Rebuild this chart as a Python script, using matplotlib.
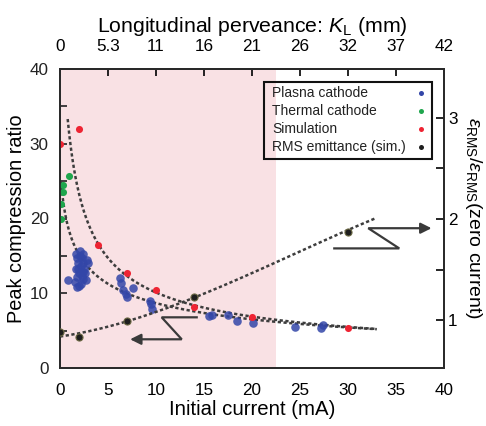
import numpy as np
import matplotlib
matplotlib.use("Agg")
import matplotlib.pyplot as plt
from matplotlib.patches import Rectangle

plt.rcParams['font.family'] = ['Liberation Sans', 'DejaVu Sans']
plt.rcParams['mathtext.fontset'] = 'custom'
plt.rcParams['mathtext.rm'] = 'Liberation Sans'
plt.rcParams['mathtext.it'] = 'Liberation Sans:italic'
plt.rcParams['mathtext.bf'] = 'Liberation Sans:bold'

# ---- measured data -------------------------------------------------------
plasma_x = [0.87, 1.63, 2.08, 2.43, 1.74, 2.26, 2.78, 1.84, 2.43, 2.95, 1.91, 2.53,
            2.20, 1.98, 2.60, 2.30, 1.74, 2.43, 2.67, 1.56, 2.19, 1.74, 2.00, 2.10,
            1.70, 2.35,
            6.25, 6.40, 6.60, 7.57, 7.00, 6.90,
            9.40, 9.45, 9.55,
            15.5, 15.8, 17.5, 18.45, 20.15, 24.5, 27.2, 27.4]
plasma_y = [11.8, 15.3, 15.6, 15.3, 14.7, 14.7, 14.4, 14.0, 14.0, 14.0, 13.3, 13.3,
            13.6, 12.7, 12.7, 12.3, 12.2, 11.9, 11.8, 11.5, 11.3, 10.9, 11.0, 15.0,
            13.2, 12.9,
            12.0, 11.4, 10.4, 10.7, 9.5, 9.9,
            8.9, 8.5, 7.9,
            6.95, 7.1, 7.1, 6.35, 6.0, 5.55, 5.4, 5.7]

thermal_x = [0.9, 0.35, 0.35, 0.1, 0.1]
thermal_y = [25.7, 24.5, 23.5, 21.9, 19.9]

sim_x = [0.0, 2.0, 4.0, 7.0, 10.0, 14.0, 20.0, 30.0]
sim_y = [30.0, 32.0, 16.5, 12.7, 10.4, 8.1, 6.8, 5.3]

rms_x = [0.0, 2.0, 7.0, 14.0, 30.0]
rms_y = [0.88, 0.83, 0.99, 1.23, 1.87]

# trend curves
sim_trend_x = [0.8, 1.4, 1.9, 2.8, 3.8, 6.9, 9.9, 13.7, 18.6, 24.5, 29.0, 33.0]
sim_trend_y = [33.0, 27.8, 23.4, 19.8, 16.7, 12.7, 10.4, 8.1, 7.2, 6.2, 5.5, 5.3]

plasma_trend_x = [0.1, 0.5, 0.9, 1.4, 2.6, 3.7, 6.3, 8.2, 9.8, 11.8, 13.2, 14.9,
                  18.6, 24.6, 29.2, 33.0]
plasma_trend_y = [26.5, 19.6, 18.0, 16.4, 14.2, 12.4, 10.8, 9.5, 9.0, 8.4, 7.8, 7.2,
                  6.5, 5.8, 5.4, 5.3]

rms_trend_x = [0.0, 2.0, 4.7, 7.0, 9.5, 14.0, 18.7, 22.2, 30.0, 32.8]
rms_trend_y = [0.884, 0.83, 0.868, 1.0, 1.10, 1.24, 1.41, 1.545, 1.874, 2.02]

top_tick_labels = ['0', '5.3', '11', '16', '21', '26', '32', '37', '42']
shaded_limit = 22.5

legend_labels = ['Plasna cathode', 'Thermal cathode', 'Simulation', 'RMS emittance (sim.)']

# Z-shaped pointers telling which axis each curve family belongs to
left_pointer_x = [14.24, 10.59, 12.68, 7.9]
left_pointer_y = [6.78, 6.78, 3.84, 3.84]
right_pointer_x = [28.57, 35.34, 32.11, 38.0]
right_pointer_y = [16.0, 16.0, 18.7, 18.7]

# ---- figure --------------------------------------------------------------
fig = plt.figure(figsize=(4.86, 4.26), dpi=100)
ax = fig.add_axes([60 / 486, 1 - 368 / 426, 384 / 486, 299 / 426])
ax.set_xlim(0, 40)
ax.set_ylim(0, 40)
ax.set_zorder(2)
ax.patch.set_visible(False)

ax2 = ax.twinx()
ax2.set_ylim(0.525, 3.485)

# background axes carries the shading
bg = fig.add_axes(ax.get_position(), zorder=0)
bg.set_xlim(0, 40)
bg.set_ylim(0, 40)
bg.axvspan(0, shaded_limit, color='#f9e1e4', lw=0)
bg.axis('off')

pink_red = '#ee2433'
green = '#1fa64d'
blue = '#3346a8'
black_pt = '#1e1e1e'
dash = (0, (1.3, 1.0))
curve_col = '#3d3d3d'


def power_trend(xs, ys, shift):
    xs = np.asarray(xs, float)
    ys = np.asarray(ys, float)
    coef = np.polyfit(np.log(xs + shift), np.log(ys), 2)
    xx = np.linspace(xs.min(), xs.max(), 400)
    return xx, np.exp(np.polyval(coef, np.log(xx + shift)))


sx, sy = power_trend(sim_trend_x, sim_trend_y, 0.8)
px, py = power_trend(plasma_trend_x, plasma_trend_y, 0.3)
ax.plot(sx, sy, ls=dash, lw=1.8, color=curve_col, zorder=2)
ax.plot(px, py, ls=dash, lw=1.8, color=curve_col, zorder=2)

rc = np.polyfit(rms_trend_x, rms_trend_y, 3)
rx = np.linspace(min(rms_trend_x), max(rms_trend_x), 400)
ax2.plot(rx, np.polyval(rc, rx), ls=dash, lw=1.8, color=curve_col, zorder=2)

ax.scatter(plasma_x, plasma_y, s=38, color=blue, alpha=0.85, lw=0, zorder=3)
ax.scatter(thermal_x, thermal_y, s=26, color=green, lw=0, zorder=3)
ax.scatter(sim_x, sim_y, s=26, color=pink_red, lw=0, zorder=4)
ax2.scatter(rms_x, rms_y, s=26, color=black_pt, edgecolors='#6d6a45',
            linewidths=0.8, zorder=4)

# pointers
arrow_col = '#3a3a3a'
ax.plot(left_pointer_x, left_pointer_y, color=arrow_col, lw=1.6, zorder=5,
        solid_joinstyle='miter')
ax.annotate('', xy=(7.3, left_pointer_y[-1]), xytext=(left_pointer_x[-1] + 0.5, left_pointer_y[-1]),
            arrowprops=dict(arrowstyle='-|>', color=arrow_col, lw=1.6,
                            mutation_scale=16, shrinkA=0, shrinkB=0), zorder=5)
ax.plot(right_pointer_x, right_pointer_y, color=arrow_col, lw=1.6, zorder=5,
        solid_joinstyle='miter')
ax.annotate('', xy=(38.7, right_pointer_y[-1]), xytext=(right_pointer_x[-1] - 0.5, right_pointer_y[-1]),
            arrowprops=dict(arrowstyle='-|>', color=arrow_col, lw=1.6,
                            mutation_scale=16, shrinkA=0, shrinkB=0), zorder=5)

# ticks and labels
tick_fs = 12.3
ax.set_xticks(np.arange(0, 41, 5))
ax.set_yticks(np.arange(0, 41, 10))
ax.set_yticks(np.arange(5, 40, 10), minor=True)
ax.tick_params(axis='x', which='both', direction='in', length=0, labelsize=tick_fs, pad=11)
ax.tick_params(axis='y', which='both', direction='in', length=5, width=1.2,
               labelsize=tick_fs, pad=8, colors='#222')
ax.set_xlabel('Initial current (mA)', fontsize=14.7, labelpad=1)
ax.set_ylabel('Peak compression ratio', fontsize=14.3, labelpad=3)

ax2.set_yticks([1, 2, 3])
ax2.set_yticks([1.5, 2.5], minor=True)
ax2.tick_params(axis='y', which='both', direction='in', length=6, width=1.2,
                labelsize=tick_fs, pad=3)
ax2.set_ylabel(r'$\varepsilon_{\mathrm{RMS}}/\varepsilon_{\mathrm{RMS}}$(zero current)',
               fontsize=14.0, rotation=270, labelpad=19)

top = ax.secondary_xaxis('top')
top.set_xticks(np.arange(0, 41, 5))
top.set_xticklabels(top_tick_labels)
top.tick_params(direction='in', length=5, width=1.2, labelsize=tick_fs, pad=11)
top.set_xlabel(r'Longitudinal perveance: $K_{\mathrm{L}}$ (mm)', fontsize=15.3, labelpad=5)

for a in (ax, ax2):
    for sp in a.spines.values():
        sp.set_linewidth(1.3)
        sp.set_color('#2a2a2a')
top.spines['top'].set_linewidth(1.3)

# legend: text on the left, colour key on the right, see-through box
ax.add_patch(Rectangle((0.531, 0.699), 0.438, 0.2575, transform=ax.transAxes,
                       fill=False, lw=1.5, ec='#111', zorder=6))
legend_colors = [blue, green, pink_red, black_pt]
row_y = [0.9207, 0.8595, 0.7993, 0.7401]
for lab, col, yy in zip(legend_labels, legend_colors, row_y):
    ax.text(0.552, yy, lab, transform=ax.transAxes, fontsize=10, color='#222',
            va='center', ha='left', zorder=6)
    ax.plot([0.940], [yy], transform=ax.transAxes, marker='o', ms=3.6, mew=0,
            color=col, zorder=6, clip_on=False)

fig.savefig('out.png', dpi=100)
